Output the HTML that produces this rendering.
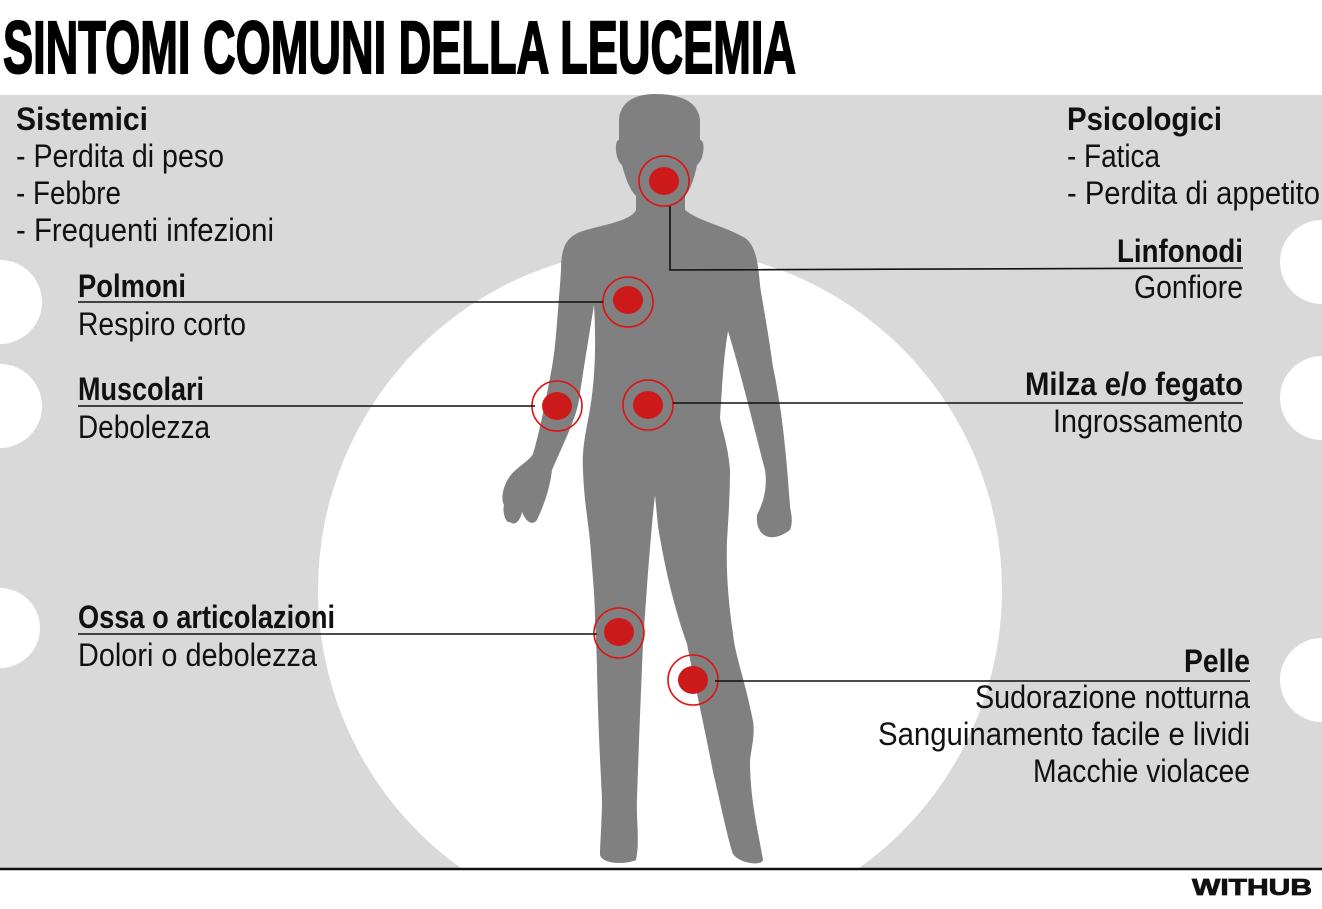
<!DOCTYPE html>
<html><head><meta charset="utf-8"><style>
html,body{margin:0;padding:0;background:#fff;}
svg{display:block;}
.b{font-family:"Liberation Sans Narrow","Liberation Sans",sans-serif;font-weight:bold;font-size:32px;fill:#111;}
.r{font-family:"Liberation Sans Narrow","Liberation Sans",sans-serif;font-size:32px;fill:#111;}
</style></head><body>
<svg width="1322" height="909" viewBox="0 0 1322 909" xmlns="http://www.w3.org/2000/svg">
<rect x="0" y="0" width="1322" height="909" fill="#fff"/>
<text x="3" y="73" textLength="793" lengthAdjust="spacingAndGlyphs" style="font-family:'Liberation Sans Narrow','Liberation Sans',sans-serif;font-weight:bold;font-size:74px;fill:#000;stroke:#000;stroke-width:2">SINTOMI COMUNI DELLA LEUCEMIA</text>
<defs><clipPath id="p"><rect x="0" y="95" width="1322" height="773"/></clipPath></defs>
<rect x="0" y="95" width="1322" height="773" fill="#d9d9d9"/>
<g clip-path="url(#p)" fill="#fff">
<circle cx="660" cy="590" r="342"/>
<circle cx="0" cy="302" r="42"/>
<circle cx="0" cy="406" r="42"/>
<circle cx="0" cy="628" r="40"/>
<circle cx="1322" cy="262" r="42"/>
<circle cx="1322" cy="398" r="42"/>
<circle cx="1322" cy="680" r="42"/>
</g>
<path fill="#808080" d="M655 94 C635 94 620 102 619 120 L619 140 C614 140 615 160 622 165 C626 180 630 190 636 196 L636 210 C630 222 600 225 580 232 C565 238 561 250 561 270 L560 285 C557 320 556 345 552 367 C546 400 540 430 533 454 C528 462 518 466 510 476 C504 484 500 498 504 505 C502 512 506 524 510 522 C514 526 520 522 522 512 C526 522 532 526 537 520 C544 505 550 488 552 470 C565 440 578 415 580 393 C585 360 590 330 594 305 C596 340 596 380 588 420 C584 440 582 455 583 470 C584 500 588 520 590 541 C593 580 595 600 595 618 C596 640 597 660 597 670 C598 720 600 760 602 798 C602 820 600 845 600 855 C602 864 625 865 636 860 C640 840 636 820 637 798 C639 740 641 690 643 644 C646 600 650 540 655 495 L658 526 C665 570 675 610 687 644 C696 690 705 730 713 772 C722 810 728 840 733 854 C740 864 762 866 763 860 C758 830 750 800 750 760 C752 745 755 735 753 721 C745 680 735 655 733 634 C728 600 726 570 727 541 C729 510 730 490 730 470 C728 445 722 430 720 418 C722 390 723 360 728 331 C740 370 752 420 765 470 C768 490 762 505 757 515 C755 535 770 545 790 530 C794 520 790 510 790 506 C786 450 782 410 773 367 C768 330 762 300 760 285 C758 260 755 245 745 238 C725 226 700 222 685 210 L685 196 C690 190 694 180 697 165 C704 160 706 140 700 140 L700 120 C698 100 678 94 655 94 Z"/>
<g fill="#cc1a1a">
<ellipse cx="664" cy="181" rx="15" ry="14"/>
<ellipse cx="628" cy="300" rx="15" ry="14"/>
<ellipse cx="557" cy="406" rx="15" ry="14"/>
<ellipse cx="648" cy="405" rx="15" ry="14"/>
<ellipse cx="619" cy="632" rx="15" ry="14"/>
<ellipse cx="693" cy="680" rx="15" ry="14"/>
</g>
<g fill="none" stroke="#e01010" stroke-width="1.6">
<ellipse cx="664" cy="181" rx="25" ry="25"/>
<ellipse cx="628" cy="302" rx="25" ry="25"/>
<ellipse cx="557" cy="406" rx="25" ry="25"/>
<ellipse cx="648" cy="405" rx="25" ry="25"/>
<ellipse cx="619" cy="633" rx="25" ry="25"/>
<ellipse cx="693" cy="680" rx="25" ry="25"/>
</g>
<g stroke="#111" stroke-width="1.6" fill="none">
<polyline points="670,206 670,270 1243,268"/>
<line x1="78" y1="302" x2="603" y2="302"/>
<line x1="78" y1="406" x2="535" y2="406"/>
<line x1="673" y1="403" x2="1243" y2="403"/>
<line x1="78" y1="634" x2="597" y2="634"/>
<line x1="715" y1="681" x2="1250" y2="681"/>
</g>
<line x1="0" y1="869" x2="1322" y2="869" stroke="#111" stroke-width="2.5"/>
<text class="b" x="16" y="130" textLength="132" lengthAdjust="spacingAndGlyphs">Sistemici</text>
<text class="r" x="16" y="167" textLength="208" lengthAdjust="spacingAndGlyphs">- Perdita di peso</text>
<text class="r" x="16" y="204" textLength="105" lengthAdjust="spacingAndGlyphs">- Febbre</text>
<text class="r" x="16" y="241" textLength="258" lengthAdjust="spacingAndGlyphs">- Frequenti infezioni</text>
<text class="b" x="1067" y="130" textLength="155" lengthAdjust="spacingAndGlyphs">Psicologici</text>
<text class="r" x="1067" y="167" textLength="93" lengthAdjust="spacingAndGlyphs">- Fatica</text>
<text class="r" x="1067" y="204" textLength="253" lengthAdjust="spacingAndGlyphs">- Perdita di appetito</text>
<text class="b" x="1117" y="262" textLength="126" lengthAdjust="spacingAndGlyphs">Linfonodi</text>
<text class="r" x="1134" y="298" textLength="109" lengthAdjust="spacingAndGlyphs">Gonfiore</text>
<text class="b" x="78" y="297" textLength="108" lengthAdjust="spacingAndGlyphs">Polmoni</text>
<text class="r" x="78" y="335" textLength="168" lengthAdjust="spacingAndGlyphs">Respiro corto</text>
<text class="b" x="78" y="400" textLength="126" lengthAdjust="spacingAndGlyphs">Muscolari</text>
<text class="r" x="78" y="438" textLength="132" lengthAdjust="spacingAndGlyphs">Debolezza</text>
<text class="b" x="1025" y="395" textLength="218" lengthAdjust="spacingAndGlyphs">Milza e/o fegato</text>
<text class="r" x="1053" y="432" textLength="190" lengthAdjust="spacingAndGlyphs">Ingrossamento</text>
<text class="b" x="78" y="628" textLength="257" lengthAdjust="spacingAndGlyphs">Ossa o articolazioni</text>
<text class="r" x="78" y="666" textLength="239" lengthAdjust="spacingAndGlyphs">Dolori o debolezza</text>
<text class="b" x="1184" y="672" textLength="66" lengthAdjust="spacingAndGlyphs">Pelle</text>
<text class="r" x="975" y="708" textLength="275" lengthAdjust="spacingAndGlyphs">Sudorazione notturna</text>
<text class="r" x="878" y="745" textLength="372" lengthAdjust="spacingAndGlyphs">Sanguinamento facile e lividi</text>
<text class="r" x="1033" y="782" textLength="217" lengthAdjust="spacingAndGlyphs">Macchie violacee</text>
<text x="1192" y="895" textLength="120" lengthAdjust="spacingAndGlyphs" style="font-family:'Liberation Sans',sans-serif;font-weight:bold;font-size:23px;fill:#111;stroke:#111;stroke-width:0.8">WITHUB</text>
</svg>
</body></html>
